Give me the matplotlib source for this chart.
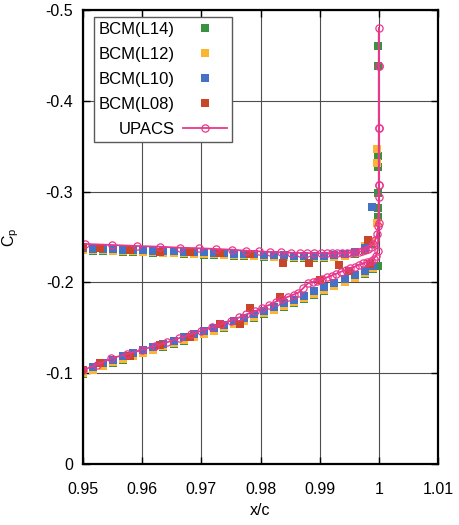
import numpy as np
import matplotlib
matplotlib.use("Agg")
import matplotlib.pyplot as plt
from matplotlib.ticker import FuncFormatter

plt.rcParams["font.family"] = ["Liberation Sans", "DejaVu Sans"]

# ---- UPACS (reference solver), upper surface -> base -> lower surface
upacs_x_upper = [0.9503, 0.9549, 0.9591, 0.9630, 0.9664, 0.9696, 0.9725, 0.9752, 0.9775, 0.9797,
                 0.9816, 0.9834, 0.9851, 0.9866, 0.9879, 0.9891, 0.9902, 0.9912, 0.9921, 0.9930,
                 0.9938, 0.9946, 0.9953, 0.9960, 0.9966, 0.9972, 0.9977, 0.9982, 0.9986, 0.9990,
                 0.9994, 0.9997, 0.9999]
upacs_cp_upper = [-0.2423, -0.2412, -0.2401, -0.2393, -0.2382, -0.2376, -0.2368, -0.2360, -0.2349, -0.2342,
                  -0.2335, -0.2331, -0.2327, -0.2324, -0.2322, -0.2321, -0.2320, -0.2320, -0.2320, -0.2321,
                  -0.2322, -0.2324, -0.2327, -0.2331, -0.2337, -0.2345, -0.2356, -0.2370, -0.2390, -0.2420,
                  -0.2465, -0.2530, -0.2620]
upacs_x_base = [1.0, 1.0, 1.0, 1.0, 1.0, 1.0, 1.0, 1.0, 1.0]
upacs_cp_base = [-0.2940, -0.3070, -0.3700, -0.4380, -0.4800, -0.4380, -0.3700, -0.3070, -0.2650]
upacs_x_lower = [0.9998, 0.9995, 0.9991, 0.9986, 0.9980, 0.9974, 0.9967, 0.9960, 0.9952, 0.9944,
                 0.9936, 0.9928, 0.9920, 0.9912, 0.9904, 0.9896, 0.9888, 0.9880, 0.9872, 0.9864,
                 0.9856, 0.9847, 0.9837, 0.9826, 0.9814, 0.9802, 0.9790, 0.9776, 0.9764, 0.9750,
                 0.9734, 0.9718, 0.9700, 0.9682, 0.9662, 0.9642, 0.9621, 0.9599, 0.9574, 0.9548,
                 0.9524, 0.9500]
upacs_cp_lower = [-0.2350, -0.2290, -0.2260, -0.2240, -0.2225, -0.2210, -0.2195, -0.2175, -0.2155, -0.2135,
                  -0.2118, -0.2095, -0.2075, -0.2055, -0.2035, -0.2020, -0.2005, -0.1990, -0.1935, -0.1887,
                  -0.1865, -0.1843, -0.1815, -0.1788, -0.1750, -0.1714, -0.1680, -0.1648, -0.1614, -0.1579,
                  -0.1542, -0.1505, -0.1468, -0.1428, -0.1385, -0.1340, -0.1300, -0.1256, -0.1210, -0.1164,
                  -0.1095, -0.1035]

# ---- BCM, shared surface stations for the fine levels
bcm_x_upper = [0.9500, 0.9517, 0.9534, 0.9551, 0.9568, 0.9585, 0.9602, 0.9619, 0.9636, 0.9653,
               0.9670, 0.9687, 0.9704, 0.9721, 0.9738, 0.9755, 0.9772, 0.9789, 0.9806, 0.9823,
               0.9840, 0.9857, 0.9874, 0.9891, 0.9908, 0.9925, 0.9942, 0.9959, 0.9976, 0.9988]
bcm_x_lower = [0.9500, 0.9517, 0.9534, 0.9551, 0.9568, 0.9585, 0.9602, 0.9619, 0.9636, 0.9653,
               0.9670, 0.9687, 0.9704, 0.9721, 0.9738, 0.9755, 0.9772, 0.9789, 0.9806, 0.9823,
               0.9840, 0.9857, 0.9874, 0.9891, 0.9908, 0.9925, 0.9942, 0.9959, 0.9976, 0.9990]

l10_cp_upper = [-0.2375, -0.2372, -0.2369, -0.2366, -0.2362, -0.2358, -0.2354, -0.2350, -0.2346, -0.2342,
                -0.2338, -0.2334, -0.2330, -0.2326, -0.2322, -0.2318, -0.2314, -0.2310, -0.2306, -0.2302,
                -0.2298, -0.2295, -0.2293, -0.2292, -0.2293, -0.2298, -0.2310, -0.2330, -0.2380, -0.2830]
l10_cp_lower = [-0.1030, -0.1068, -0.1110, -0.1150, -0.1185, -0.1220, -0.1255, -0.1290, -0.1325, -0.1360,
                -0.1395, -0.1430, -0.1465, -0.1500, -0.1535, -0.1572, -0.1610, -0.1648, -0.1688, -0.1728,
                -0.1768, -0.1810, -0.1855, -0.1900, -0.1945, -0.1990, -0.2035, -0.2080, -0.2130, -0.2180]

l12_cp_upper = [-0.2358, -0.2355, -0.2352, -0.2349, -0.2345, -0.2341, -0.2337, -0.2333, -0.2329, -0.2325,
                -0.2321, -0.2317, -0.2313, -0.2309, -0.2305, -0.2301, -0.2297, -0.2293, -0.2289, -0.2285,
                -0.2281, -0.2278, -0.2276, -0.2275, -0.2276, -0.2282, -0.2295, -0.2320, -0.2400, -0.2450]
l12_cp_lower = [-0.1000, -0.1038, -0.1080, -0.1120, -0.1155, -0.1190, -0.1225, -0.1260, -0.1295, -0.1330,
                -0.1365, -0.1400, -0.1435, -0.1470, -0.1505, -0.1542, -0.1580, -0.1618, -0.1658, -0.1698,
                -0.1738, -0.1780, -0.1825, -0.1870, -0.1915, -0.1960, -0.2005, -0.2050, -0.2100, -0.2155]
l12_x_te = [0.9997, 0.9997, 0.9997]
l12_cp_te = [-0.2650, -0.3320, -0.3470]

l14_cp_upper = [-0.2352, -0.2349, -0.2346, -0.2343, -0.2339, -0.2335, -0.2331, -0.2327, -0.2323, -0.2319,
                -0.2315, -0.2311, -0.2307, -0.2303, -0.2299, -0.2295, -0.2291, -0.2287, -0.2283, -0.2279,
                -0.2275, -0.2272, -0.2270, -0.2269, -0.2270, -0.2276, -0.2290, -0.2315, -0.2360, -0.2420]
l14_cp_lower = [-0.0995, -0.1033, -0.1075, -0.1115, -0.1150, -0.1185, -0.1220, -0.1255, -0.1290, -0.1325,
                -0.1360, -0.1395, -0.1430, -0.1465, -0.1500, -0.1537, -0.1575, -0.1613, -0.1653, -0.1693,
                -0.1733, -0.1775, -0.1820, -0.1865, -0.1910, -0.1955, -0.2000, -0.2045, -0.2095, -0.2150]
l14_x_te = [0.9998, 0.9998, 0.9998, 0.9998, 0.9998, 0.9998, 0.9998, 0.9998]
l14_cp_te = [-0.2180, -0.2720, -0.2820, -0.2980, -0.3270, -0.3390, -0.4380, -0.4600]

# coarse level, scattered
l08_x = [0.9500, 0.9529, 0.9579, 0.9630, 0.9681, 0.9731, 0.9782, 0.9838, 0.9882, 0.9932, 0.9981,
         0.9500, 0.9529, 0.9579, 0.9630, 0.9681, 0.9731, 0.9765, 0.9782, 0.9833, 0.9900, 0.9950, 0.9985]
l08_cp = [-0.2385, -0.2380, -0.2357, -0.2335, -0.2335, -0.2324, -0.2313, -0.2214, -0.2214, -0.2192, -0.2467,
          -0.1030, -0.1109, -0.1189, -0.1311, -0.1395, -0.1538, -0.1538, -0.1714, -0.1843, -0.2030, -0.2130, -0.2200]

colors = {"L14": "#3b9142", "L12": "#fbb533", "L10": "#4472c4", "L08": "#c8472b", "UPACS": "#e8388c"}

fig = plt.figure(figsize=(4.6, 5.25), dpi=100)
ax = fig.add_axes([83 / 460, 61 / 525, 355 / 460, 454 / 525])

ms = 5.8
ax.plot(bcm_x_upper + bcm_x_lower + l14_x_te, l14_cp_upper + l14_cp_lower + l14_cp_te,
        "s", ms=ms, mew=0, color=colors["L14"], label="BCM(L14)")
ax.plot(bcm_x_upper + bcm_x_lower + l12_x_te, l12_cp_upper + l12_cp_lower + l12_cp_te,
        "s", ms=ms, mew=0, color=colors["L12"], label="BCM(L12)")
ax.plot(bcm_x_upper + bcm_x_lower, l10_cp_upper + l10_cp_lower,
        "s", ms=ms, mew=0, color=colors["L10"], label="BCM(L10)")
ax.plot(l08_x, l08_cp, "s", ms=ms, mew=0, color=colors["L08"], label="BCM(L08)")

ux = np.concatenate([upacs_x_upper, upacs_x_base, upacs_x_lower])
ucp = np.concatenate([upacs_cp_upper, upacs_cp_base, upacs_cp_lower])
ax.plot(ux, ucp, "-o", color=colors["UPACS"], lw=1.3, ms=5.2, mfc="none", mew=0.9, label="UPACS")

ax.set_xlim(0.95, 1.01)
ax.set_ylim(0, -0.5)
ax.set_xticks([0.95, 0.96, 0.97, 0.98, 0.99, 1.0, 1.01])
ax.set_yticks([0, -0.1, -0.2, -0.3, -0.4, -0.5])
ax.xaxis.set_major_formatter(FuncFormatter(lambda v, p: "%g" % round(v, 3)))
ax.yaxis.set_major_formatter(FuncFormatter(lambda v, p: "%g" % round(v, 3)))
ax.grid(True, color="0.3", lw=0.8)
ax.tick_params(direction="in", length=5, width=1, labelsize=11.5, top=True, right=True)
ax.tick_params(axis="x", pad=13)
ax.tick_params(axis="y", pad=7)
for s in ax.spines.values():
    s.set_linewidth(1.6)

ax.set_xlabel("x/c", fontsize=11.5, labelpad=4)
ax.set_ylabel("C$_\\mathregular{p}$", fontsize=11.5)
ax.yaxis.set_label_coords(-0.175, 0.5)

leg = ax.legend(loc="upper left", bbox_to_anchor=(0.012, 1.0), markerfirst=False, fancybox=False,
                framealpha=1, edgecolor="0.35", fontsize=12, labelspacing=0.6, handlelength=2.6,
                borderpad=0.3, handletextpad=0.5, borderaxespad=0.4)
leg.get_frame().set_linewidth(1.0)

fig.savefig("out.png", dpi=100)
